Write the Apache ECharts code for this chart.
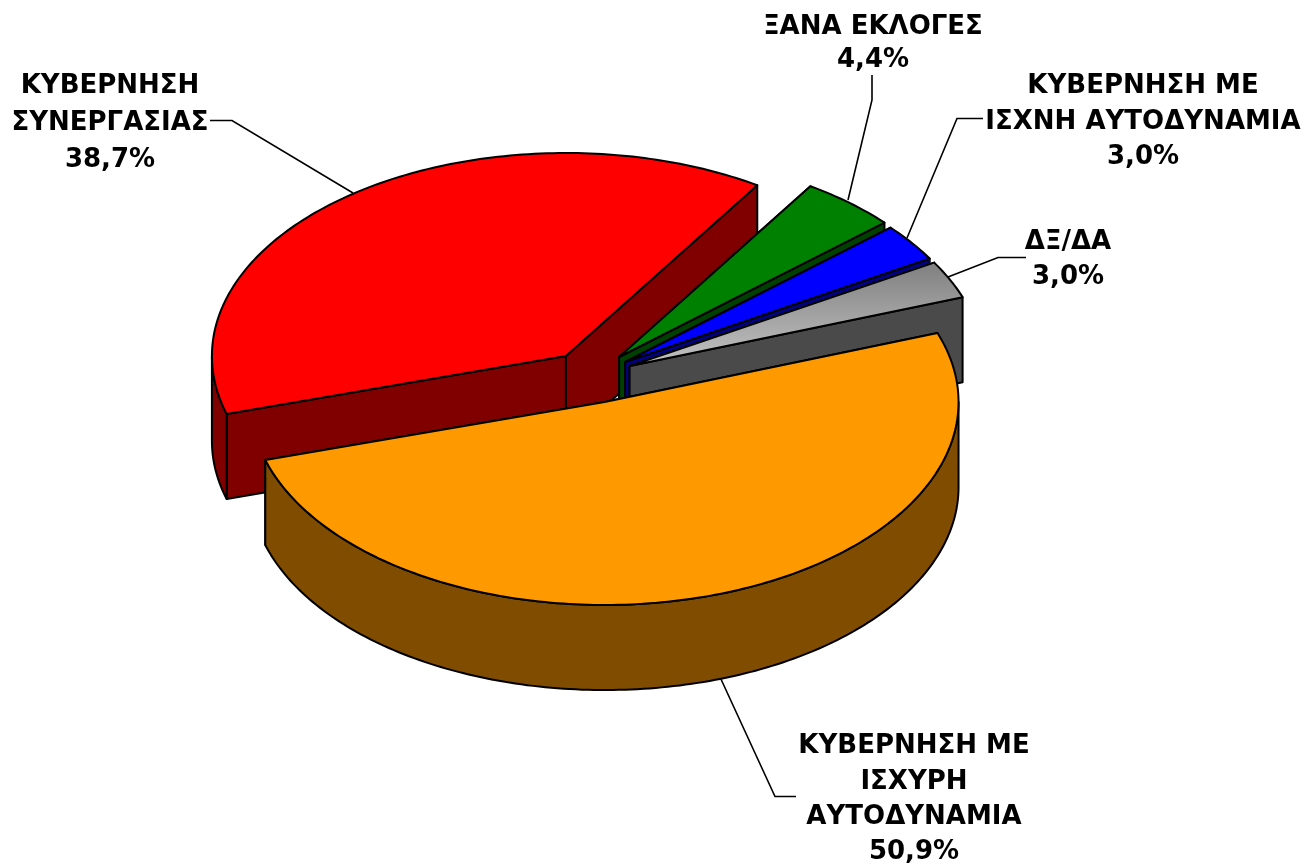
<!DOCTYPE html>
<html>
<head>
<meta charset="utf-8">
<title>Pie</title>
<style>
html, body { margin: 0; padding: 0; background: #fff; }
#chart { width: 1304px; height: 865px; }
</style>
<script src="https://cdn.jsdelivr.net/npm/echarts@6/dist/echarts.min.js"></script>
</head>
<body>
<div id="chart"></div>
<script>
// slices in drawing order, clockwise from the left edge of the red one
const categories = [
	['ΚΥΒΕΡΝΗΣΗ', 'ΣΥΝΕΡΓΑΣΙΑΣ'],
	['ΞΑΝΑ ΕΚΛΟΓΕΣ'],
	['ΚΥΒΕΡΝΗΣΗ ΜΕ', 'ΙΣΧΝΗ ΑΥΤΟΔΥΝΑΜΙΑ'],
	['ΔΞ/ΔΑ'],
	['ΚΥΒΕΡΝΗΣΗ ΜΕ', 'ΙΣΧΥΡΗ', 'ΑΥΤΟΔΥΝΑΜΙΑ']
]
const shares = [38.7, 4.4, 3.0, 3.0, 50.9]

const topColors = [
	'#ff0000',
	'#008000',
	'#0000ff',
	{ type: 'linear', x: 0, y: 0, x2: 0, y2: 1, colorStops: [{ offset: 0, color: '#7f7f7f' }, { offset: 1, color: '#c4c4c4' }] },
	'#ff9900'
]
const wallColors = ['#800000', '#004000', '#000080', '#4a4a4a', '#804d00']

// where each label sits and how its leader line runs
const labelAnchors = [[110, 86.5], [873, 27.5], [1143, 86.5], [1068, 242.5], [914, 746.5]]
const labelLineHeights = [37, 33, 35.5, 35, 35.3]
const leaders = [
	[[210, 120.5], [232, 120.5], [353, 193]],
	[[872, 75], [872, 100], [848, 200]],
	[[983, 118.5], [957, 118.5], [907, 238]],
	[[1026, 257.5], [998, 257.5], [948, 277]],
	[[796, 796.5], [775, 796.5], [720, 677]]
]

// how far each slice is pulled out of the pie, in axis units
const pullX = [-0.0765, 0.0737, 0.0907, 0.1034, 0.0326]
const pullY = [0.0985, 0.0936, 0.069, 0.049, -0.128]

const startAngle = 253.4
const depth = 0.419 // height of the pie in y units

const toRad = (d) => (d * Math.PI) / 180
const startAngles = shares.map((s, i) => (startAngle + shares.slice(0, i).reduce((a, b) => a + b, 0) * 3.6) % 360)

function renderSlice(params, api) {
	const i = params.dataIndex
	const from = api.value(0)
	const to = from + api.value(1) * 3.6
	const ox = pullX[i]
	const oy = pullY[i]

	const rim = (a, drop) => api.coord([ox + Math.sin(toRad(a)), oy + Math.cos(toRad(a)) - drop])
	const hub = (drop) => api.coord([ox, oy - drop])
	const style = { fill: wallColors[i], stroke: '#000', lineWidth: 2, lineJoin: 'round' }
	const children = []

	// the two cut faces
	for (const a of [from, to]) {
		children.push({
			type: 'polygon',
			shape: { points: [hub(0), rim(a, 0), rim(a, depth), hub(depth)] },
			style
		})
	}
	// outer wall, only the part that turns towards the viewer
	const wallFrom = Math.max(from, 90)
	const wallTo = Math.min(to, 270)
	if (wallTo > wallFrom) {
		const up = []
		const down = []
		const wallSteps = Math.ceil(wallTo - wallFrom)
		for (let k = 0; k <= wallSteps; k++) {
			const a = wallFrom + ((wallTo - wallFrom) * k) / wallSteps
			up.push(rim(a, 0))
			down.unshift(rim(a, depth))
		}
		children.push({ type: 'polygon', shape: { points: up.concat(down) }, style })
	}
	// top face
	const top = [hub(0)]
	const steps = Math.ceil(to - from)
	for (let k = 0; k <= steps; k++) {
		top.push(rim(from + ((to - from) * k) / steps, 0))
	}
	children.push({
		type: 'polygon',
		shape: { points: top },
		style: { fill: topColors[i], stroke: '#000', lineWidth: 2, lineJoin: 'round' }
	})
	return { type: 'group', children }
}

const labelFont = 'bold 26px "DejaVu Sans", sans-serif'
const percent = (v) => v.toFixed(1).replace('.', ',') + '%'

const graphics = []
categories.forEach((lines, i) => {
	graphics.push({
		type: 'polyline',
		silent: true,
		shape: { points: leaders[i] },
		style: { fill: null, stroke: '#000', lineWidth: 1.6 }
	})
	graphics.push({
		type: 'text',
		silent: true,
		x: labelAnchors[i][0],
		y: labelAnchors[i][1] - labelLineHeights[i] / 2,
		style: {
			text: lines.concat(percent(shares[i])).join('\n'),
			font: labelFont,
			fill: '#000',
			align: 'center',
			verticalAlign: 'top',
			lineHeight: labelLineHeights[i]
		}
	})
})

const myChart = echarts.init(document.getElementById('chart'), null, { renderer: 'canvas' })
myChart.setOption({
	animation: false,
	backgroundColor: '#fff',
	grid: { left: 239, top: 173, width: 708, height: 406 },
	xAxis: { type: 'value', min: -1, max: 1, show: false },
	yAxis: { type: 'value', min: -1, max: 1, show: false },
	graphic: { elements: graphics },
	series: [
		{
			type: 'custom',
			coordinateSystem: 'cartesian2d',
			clip: false,
			silent: true,
			renderItem: renderSlice,
			data: shares.map((s, i) => [startAngles[i], s])
		}
	]
})
window.addEventListener('resize', function() {
	myChart.resize()
})
</script>
</body>
</html>
